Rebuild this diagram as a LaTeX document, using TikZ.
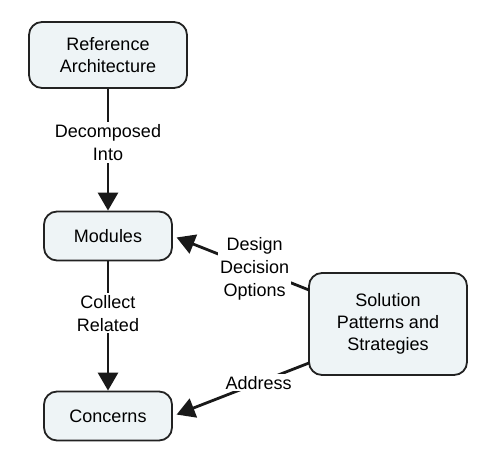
\documentclass[tikz,border=0pt]{standalone}
\usepackage{fontspec}
\setmainfont{Liberation Sans}
\usetikzlibrary{arrows.meta}
\definecolor{boxfill}{HTML}{EEF4F6}
\definecolor{boxline}{HTML}{222222}
\begin{document}
\begin{tikzpicture}[x=1pt,y=-1pt,
  box/.style={draw=boxline,line width=1.8pt,fill=boxfill,rounded corners=13pt,
    align=center,font=\fontsize{18}{22}\selectfont,inner sep=0pt},
  conn/.style={line width=2.8pt,draw=black!90,-{Triangle[length=18pt,width=20pt]}},
  lbl/.style={fill=white,align=center,font=\fontsize{18}{23}\selectfont,inner sep=2pt}]
\useasboundingbox (0,0) rectangle (494,473);
\node[box,minimum width=158pt,minimum height=66pt] (ref) at (108,55) {Reference\\Architecture};
\node[box,minimum width=128pt,minimum height=49pt] (mod) at (108,236) {Modules};
\node[box,minimum width=128pt,minimum height=49pt] (con) at (108,416) {Concerns};
\node[box,minimum width=158pt,minimum height=102pt] (sol) at (388,324) {Solution\\Patterns and\\Strategies};
\coordinate (s1) at (309,290);
\coordinate (s2) at (309,363);
\draw[conn] (ref) -- node[lbl,pos=0.44] {Decomposed\\Into} (mod);
\draw[conn] (mod) -- node[lbl,pos=0.4] {Collect\\Related} (con);
\draw[conn,shorten >=4pt] (s1) -- node[lbl,pos=0.4] {Design\\Decision\\Options} (mod.east);
\draw[conn,shorten >=4pt] (s2) -- node[lbl,pos=0.37] {Address} (con.east);
\end{tikzpicture}
\end{document}
